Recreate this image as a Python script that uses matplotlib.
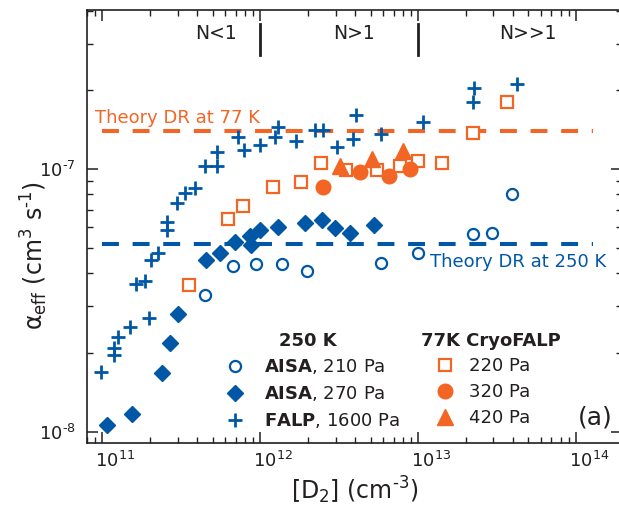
import matplotlib
matplotlib.use('Agg')
import matplotlib.pyplot as plt
import matplotlib.transforms as mtransforms
from matplotlib.ticker import FuncFormatter
import numpy as np

BLUE = '#0057a6'
ORANGE = '#f26524'
INK = '#231f20'
HY = '\u2010'  # short hyphen, the original uses it in exponents

# 250 K, FALP 1600 Pa
falp_x = [9.75e10, 1.19e11, 1.19e11, 1.256e11, 1.486e11, 1.97e11, 1.633e11, 1.862e11,
          2.03e11, 2.26e11, 2.58e11, 2.58e11, 2.99e11, 3.34e11, 3.86e11, 4.47e11,
          5.30e11, 5.30e11, 7.26e11, 7.89e11, 9.97e11, 1.242e12, 1.303e12, 1.687e12,
          2.22e12, 2.51e12, 3.05e12, 3.89e12, 4.02e12, 5.81e12, 1.081e13, 2.24e13,
          2.26e13, 4.22e13]
falp_y = [1.68e-8, 1.96e-8, 2.08e-8, 2.29e-8, 2.51e-8, 2.70e-8, 3.64e-8, 3.73e-8,
          4.51e-8, 4.78e-8, 5.86e-8, 6.30e-8, 7.40e-8, 8.08e-8, 8.44e-8, 1.027e-7,
          1.027e-7, 1.164e-7, 1.327e-7, 1.181e-7, 1.234e-7, 1.327e-7, 1.449e-7, 1.282e-7,
          1.408e-7, 1.408e-7, 1.21e-7, 1.297e-7, 1.605e-7, 1.359e-7, 1.507e-7, 1.804e-7,
          2.03e-7, 2.107e-7]

# 250 K, AISA 270 Pa
aisa270_x = [1.077e11, 1.547e11, 2.37e11, 2.69e11, 3.01e11, 4.51e11, 5.56e11, 6.92e11,
             8.62e11, 8.70e11, 9.97e11, 1.303e12, 1.923e12, 2.455e12, 2.98e12, 3.71e12,
             5.26e12]
aisa270_y = [1.063e-8, 1.165e-8, 1.668e-8, 2.176e-8, 2.80e-8, 4.50e-8, 4.78e-8, 5.29e-8,
             5.56e-8, 5.14e-8, 5.86e-8, 6.03e-8, 6.25e-8, 6.39e-8, 5.95e-8, 5.72e-8,
             6.12e-8]

# 250 K, AISA 210 Pa
aisa210_x = [4.47e11, 6.75e11, 9.37e11, 1.38e12, 1.989e12, 5.83e12, 9.95e12, 2.22e13,
             2.96e13, 3.96e13]
aisa210_y = [3.31e-8, 4.27e-8, 4.34e-8, 4.34e-8, 4.10e-8, 4.37e-8, 4.78e-8, 5.66e-8,
             5.72e-8, 8.03e-8]

# 77 K CryoFALP
cryo220_x = [3.55e11, 6.28e11, 7.81e11, 1.211e12, 1.822e12, 2.42e12, 3.50e12, 5.52e12,
             7.69e12, 1.004e13, 1.413e13, 2.22e13, 3.68e13]
cryo220_y = [3.62e-8, 6.43e-8, 7.23e-8, 8.52e-8, 8.95e-8, 1.057e-7, 9.91e-8, 9.94e-8,
             1.027e-7, 1.075e-7, 1.054e-7, 1.367e-7, 1.794e-7]
cryo320_x = [2.51e12, 4.29e12, 6.55e12, 8.90e12]
cryo320_y = [8.52e-8, 9.77e-8, 9.43e-8, 1.003e-7]
cryo420_x = [3.20e12, 5.09e12, 8.07e12]
cryo420_y = [1.027e-7, 1.089e-7, 1.171e-7]

theory_77 = 1.40e-7
theory_250 = 5.2e-8
theory_x = [1.0e11, 1.28e14]

regimes = ['N<1', 'N>1', 'N>>1']
regime_x = [5.25e11, 3.93e12, 4.98e13]
regime_edges = [1e12, 1e13]

fig = plt.figure(figsize=(6.19, 5.08), dpi=100)
ax = fig.add_axes([87 / 619, 65 / 508, 535 / 619, 433 / 508])
ax.set_xscale('log')
ax.set_yscale('log')
ax.set_xlim(7.99e10, 1.96e14)
ax.set_ylim(9.05e-9, 4.03e-7)

ax.plot(theory_x, [theory_77] * 2, color=ORANGE, lw=2.9, dashes=(4.2, 3.4), zorder=1)
ax.plot(theory_x, [theory_250] * 2, color=BLUE, lw=2.9, dashes=(4.2, 3.4), zorder=1)

h_circ, = ax.plot(aisa210_x, aisa210_y, 'o', ls='none', ms=8, mfc='none', mec=BLUE, mew=1.6)
h_diam, = ax.plot(aisa270_x, aisa270_y, 'D', ls='none', ms=8.3, color=BLUE)
h_plus, = ax.plot(falp_x, falp_y, '+', ls='none', ms=10.5, mew=2.0, color=BLUE)
h_sq, = ax.plot(cryo220_x, cryo220_y, 's', ls='none', ms=8, mfc='white', mec=ORANGE, mew=1.6)
h_fc, = ax.plot(cryo320_x, cryo320_y, 'o', ls='none', ms=10.5, color=ORANGE)
h_tri, = ax.plot(cryo420_x, cryo420_y, '^', ls='none', ms=11, color=ORANGE)

ax.text(8.97e10, 1.496e-7, 'Theory DR at 77 K', color=ORANGE, fontsize=13, va='baseline')
ax.text(1.19e13, 4.23e-8, 'Theory DR at 250 K', color=BLUE, fontsize=13, va='baseline')

trans = mtransforms.blended_transform_factory(ax.transData, ax.transAxes)
for lab, xx in zip(regimes, regime_x):
    ax.text(xx, 0.945, lab, transform=trans, ha='center', va='center', fontsize=13.5, color=INK)
for xx in regime_edges:
    ax.axvline(xx, ymin=0.896, ymax=0.968, color=INK, lw=2)

ax.text(0.918, 0.058, '(a)', transform=ax.transAxes, fontsize=18, color=INK, va='center')

# legend headers
ax.text(0.413, 0.2356, '250 K', transform=ax.transAxes, ha='center', va='center',
        fontsize=13, fontweight='bold', color=INK)
ax.text(0.755, 0.2356, '77K CryoFALP', transform=ax.transAxes, ha='center', va='center',
        fontsize=13, fontweight='bold', color=INK)

leg_kw = dict(loc='upper left', frameon=False, fontsize=13, handlelength=1.0,
              labelspacing=0.45, borderpad=0, borderaxespad=0, labelcolor=INK)
leg1 = ax.legend([h_circ, h_diam, h_plus],
                 [r'$\mathbf{AISA}$, 210 Pa', r'$\mathbf{AISA}$, 270 Pa', r'$\mathbf{FALP}$, 1600 Pa'],
                 bbox_to_anchor=(0.26, 0.1985), handletextpad=1.1, **leg_kw)
ax.add_artist(leg1)
ax.legend([h_sq, h_fc, h_tri], ['220 Pa', '320 Pa', '420 Pa'],
          bbox_to_anchor=(0.652, 0.1985), handletextpad=0.83, **leg_kw)


def dec_fmt(v, pos):
    e = int(round(np.log10(v)))
    return r'$\mathdefault{10^{%s}}$' % str(e).replace('-', HY)


ax.xaxis.set_major_formatter(FuncFormatter(dec_fmt))
ax.yaxis.set_major_formatter(FuncFormatter(dec_fmt))

ax.tick_params(which='both', direction='in', top=True, right=True, colors=INK)
ax.tick_params(which='major', length=8, width=1.1)
ax.tick_params(which='minor', length=4.5, width=1.0)
ax.tick_params(axis='x', labelsize=13, pad=6)
ax.tick_params(axis='y', labelsize=13, pad=8)
ax.get_xticks()
for t in ax.xaxis.get_major_ticks():
    t.label1.set_horizontalalignment('left')
    t.label1.set_transform(t.label1.get_transform() +
                           mtransforms.ScaledTranslation(-0.07, 0, fig.dpi_scale_trans))
for s in ax.spines.values():
    s.set_linewidth(1.2)
    s.set_color(INK)

ax.set_xlabel('[D$_2$] (cm$^{%s3}$)' % HY, fontsize=17, color=INK, labelpad=2)
ax.set_ylabel('α$_{\\rm eff}$ (cm$^3$ s$^{%s1}$)' % HY, fontsize=17, color=INK)
ax.yaxis.set_label_coords(-0.069, 0.434)

fig.savefig('out.png', dpi=100)
